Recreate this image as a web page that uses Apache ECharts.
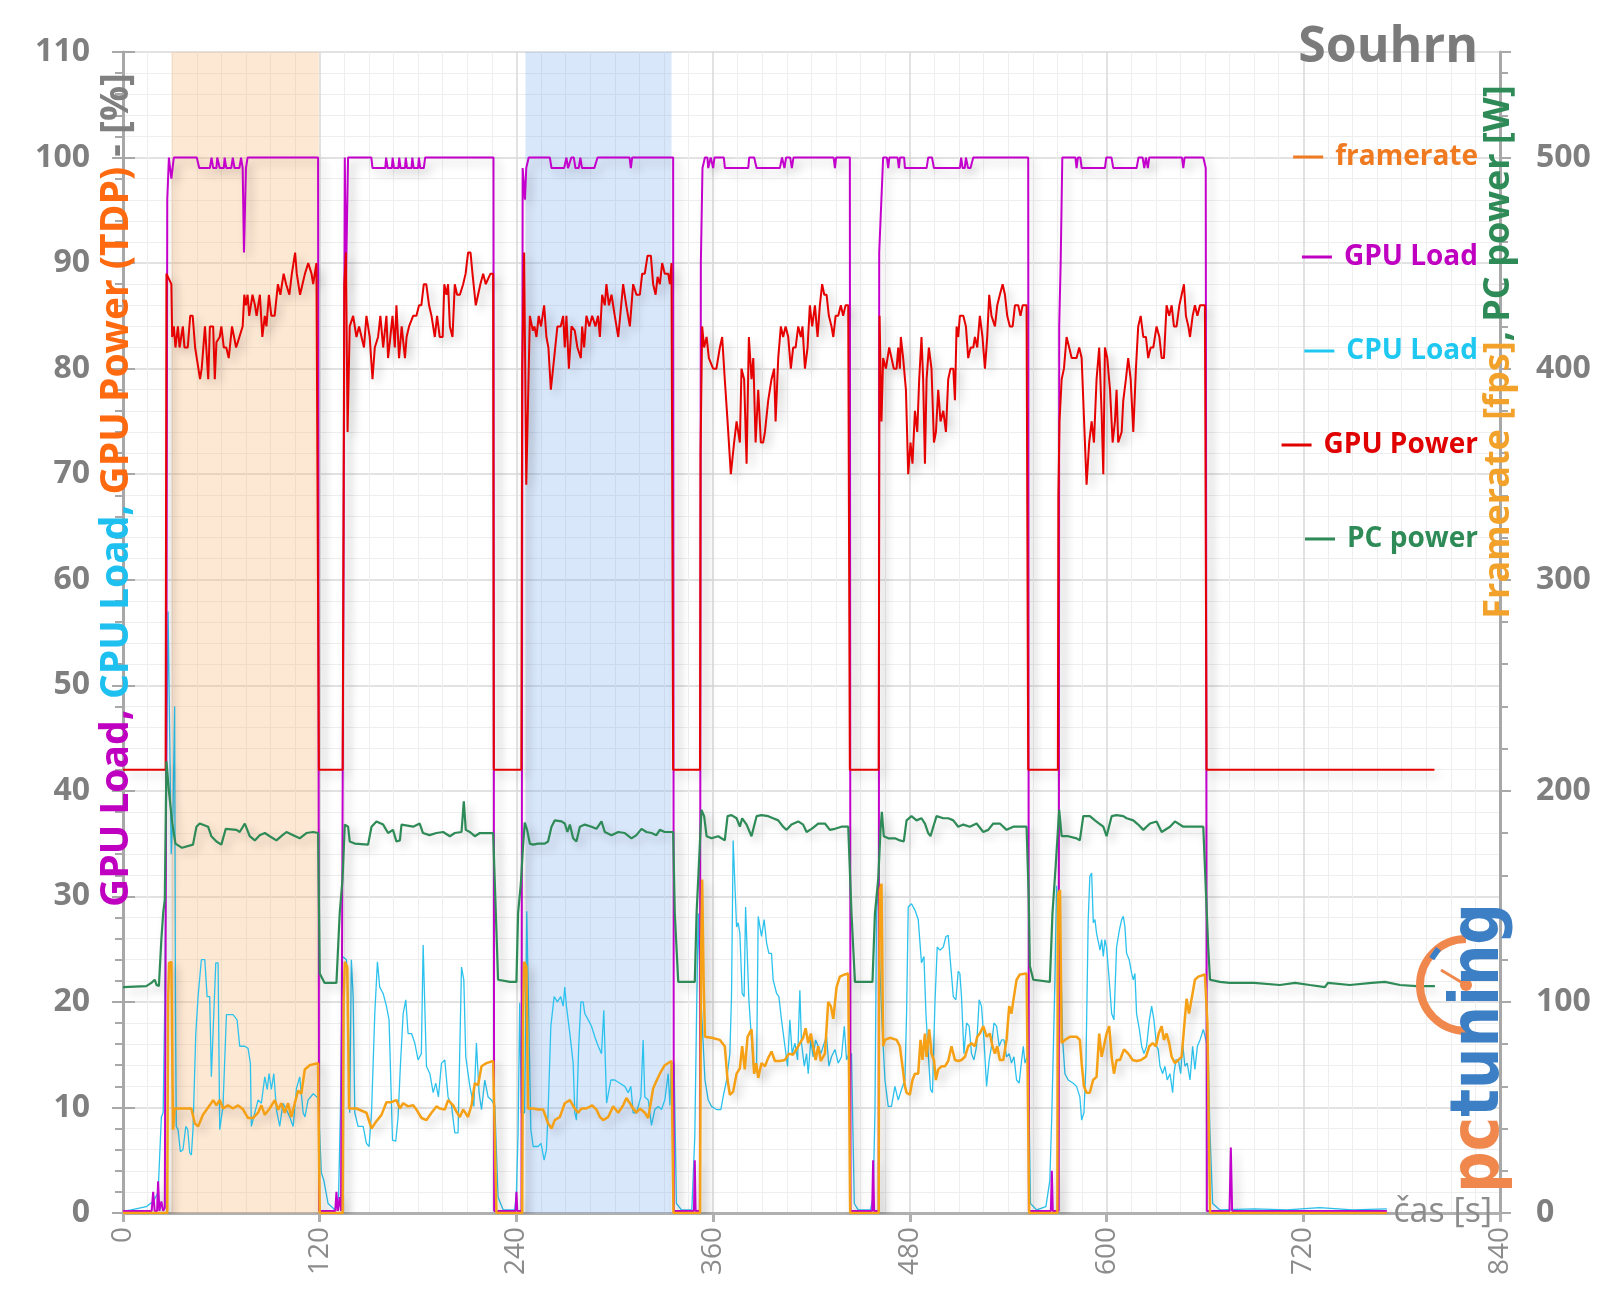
<!DOCTYPE html>
<html><head><meta charset="utf-8">
<script src="https://cdn.jsdelivr.net/npm/echarts@6/dist/echarts.min.js"></script>
<style>html,body{margin:0;padding:0;background:#fff}#c{width:1600px;height:1301px}</style>
</head><body><div id="c"></div>
<script>
// time [s], GPU Power [% TDP]
const gpuPower = [[0,42],[26,42],[26.5,89],[28,88.5],[29.5,88],[30,83],[31,84],[32,82],[33.5,84],[34.5,82],[36.5,84],[37.5,82],[39.5,82],[41,85],[42.5,85],[44,82],[45,81],[46,81],[47,79],[48,80],[50,84],[52,79],[53,84],[55,84],[56,79],[57,82.5],[59,83],[60,84],[61.5,82],[63,82],[64.5,81],[66.5,84],[69,82],[71,83],[73,84],[74,87],[75,86],[76,87],[77,85],[79,87],[80.5,86],[81.5,85],[83.5,87],[85,83],[86.5,85],[87.5,84],[89,87],[90.5,85],[92.5,85],[94.5,88],[96,87],[98,89],[99.5,88],[101.5,87],[103,89],[105,91],[106,89],[108,87],[109.5,88],[111,89],[113,90],[115,89],[116,88],[117,88],[118,90],[119,90],[119.5,42],
[134,42],[135,88],[136,91],[137,74],[138.3,84],[140.4,85],[142.4,83],[144,84],[145.5,83],[147,82],[148.5,85],[150.5,83],[152.2,79],[153.6,82],[155.6,83],[157,85],[158.7,82],[160.7,85],[161.7,81],[163.1,83],[164.4,85],[165.8,82],[166.8,86],[168.4,81],[170,84],[172,81],[173,83],[174.5,84],[177,85],[179,85],[180.6,86],[182,86],[183.5,88],[185,88],[186.7,86],[188.2,85],[190.2,83],[191.6,85],[193.2,83],[195,83],[196,88],[197.3,87],[198.3,88],[199.4,84],[201,83],[202.4,88],[203.8,87],[205.5,87],[207.5,88],[209,89],[210.5,91],[212,91],[213.2,89],[215.2,86],[216.6,87],[218,88],[219.7,89],[221.3,88],[222.7,88.5],[224.2,89],[225.8,89],[226.2,42],
[243,42],[243.5,80],[244.7,91],[246,69],[247,69],[248.2,85],[250,83.6],[251,84],[252.2,83],[253.6,85],[255,84],[256.9,86],[258.3,83],[259.5,82],[261,78],[263,81],[265,84],[267,84],[268.5,85],[269.5,82],[270.5,85],[272,80],[273.6,84],[275.6,83.6],[277.2,82],[279.3,81],[280.1,84],[281.3,82],[282.7,85],[284.5,84],[286.2,85],[288.2,84],[289.8,85],[290.9,83],[292.3,87],[293.9,86],[294.9,88],[296.4,86],[298,87],[300,85],[302.1,83],[305.1,88],[307,86],[309.2,84],[311.2,88],[313.2,87],[315.3,87],[316.7,89],[318.3,89],[320,90.7],[322,90.7],[323.4,88],[324.9,87],[326.1,88.7],[327.5,88],[328.9,90],[330.5,89],[332.6,89],[333.6,88],[334.6,90],[335.6,42],
[352,42],[352.3,72],[353.3,84],[354.5,82],[356,83],[357.4,81],[358.6,81],[360,80],[362,80],[364.1,82],[365.5,83],[367.1,79],[368.8,75],[370.8,70],[372.8,73],[374.3,75],[376.3,73],[377.3,80],[378.9,79],[380.4,71],[381.8,83],[383.4,79],[384.5,81],[385.9,73],[387.5,78],[389.1,73],[390.5,73],[391.6,74],[393.6,77],[395.6,79],[397.2,80],[398.1,75],[399.7,81],[401.3,84],[402.7,83],[404.2,84],[405.8,83],[407.4,80],[408.8,82],[410.3,82],[411.9,84],[413.5,83],[414.5,84],[416,80],[417.6,82],[419,86],[420.4,84],[422.1,86],[423.7,83],[425.1,86],[426.5,88],[427.8,87],[429.2,87],[430.6,85],[432.2,84],[433.3,83],[434.7,85],[436.3,85],[437.9,86],[439.3,85],[440.8,86],[442.4,86],[443.4,42],
[461,42],[461.5,85],[462.7,75],[463.7,81],[465.4,80],[467.4,82],[468.8,81],[470.2,80],[471.9,80],[472.9,82],[473.9,80],[474.5,83],[475.9,81],[477.6,78],[479,70],[480.4,73],[481.6,71],[483.1,76],[484.5,74],[485.7,79],[487.1,83],[488.1,79],[489.2,71],[490.2,79],[491.6,82],[493.2,80],[494.7,73],[495.9,74],[497.3,78],[498.7,75],[500.4,76],[502,74],[503.4,79],[504.8,80],[506.5,80],[507.5,77],[508.5,84],[509.5,83],[510.5,85],[512.6,85],[514.2,84],[515.6,81],[517.1,82],[518.7,82],[519.7,83],[521.1,82],[522.7,85],[524.3,83],[525.8,80],[527.2,83],[528.4,87],[529.8,85],[531.9,84],[533.3,86],[534.9,87],[536.6,88],[538,87],[539.4,85],[541,84],[542.7,84],[544.1,86],[546.1,86],[547.5,85],[548.8,86],[551.2,86],[552.2,42],
[570.3,42],[570.6,68],[571.3,75],[572.6,79],[574,80],[575.6,83],[577.2,82],[578.7,81],[581.7,81],[583.3,82],[584.8,81],[586.2,75.4],[587.8,69],[589.4,73],[590.9,75],[592.3,73],[593.9,79],[595.5,82],[597,75.7],[598,70],[599,82],[600.4,81],[602.1,78],[603.7,73],[605.1,75],[606.1,78],[607.1,73],[609.2,74],[610.2,77],[611.8,79],[613.2,81],[614.7,79],[616.3,74],[617.9,80],[619.3,84],[620.8,85],[622.4,83],[624,83],[625.4,81],[626.9,82],[628.5,82],[630.5,84],[632.2,83],[633.6,81],[635,81],[636.6,86],[638.2,85],[639.7,86],[641.1,84],[642.7,84],[644.4,86],[645.8,87],[647.2,88],[648.4,85],[649.9,84],[650.9,83],[652.5,85],[653.9,86],[655.4,85],[657,86],[660,86],[661,42],[800,42]];

// time [s], GPU Load [%]
const gpuLoad = [[0,0.2],[17.5,0.2],[18.4,2],[19.3,0.2],[20.8,0.2],[21.4,3],[22.2,0.2],[23.4,1.1],[24.5,0.2],[25.5,0.5],[26.5,50],[27,96],[28,100],[29.5,98],[31,100],[45,100],[46.5,99],[53,99],[54,100],[55,99],[57,99],[57.5,100],[58.5,100],[59,99],[61.5,99],[62,100],[63,99],[66,99],[67,100],[68,99],[71,99],[72,100],[73,99],[73.8,91],[75,99],[76,100],[119,100],[119.6,0.2],
[129.5,0.2],[130.2,2],[131,0.2],[132.2,1.5],[133,0.2],[134,0.2],[134.5,60],[135.3,100],[136,88],[137.3,100],[151.5,100],[152.2,99],[160,99],[160.5,100],[161.5,99],[164,99],[164.5,100],[165.3,99],[168,99],[168.5,100],[169.3,99],[172,99],[172.5,100],[173.3,99],[176,99],[176.5,100],[177.3,99],[180,99],[180.5,100],[181.3,99],[183.5,99],[184.3,100],[226,100],[226.4,0.2],
[239.5,0.2],[240,2],[240.5,0.2],[243.1,0.2],[243.4,50],[243.8,99],[244.5,99],[245.2,96],[246,99],[247.5,100],[260.4,100],[261.4,99],[269.1,99],[270.5,100],[271.5,99],[272.5,99],[273.5,100],[275,100],[276,99],[278,99],[279,100],[280,99],[287.5,99],[289.5,100],[309,100],[309.8,99],[310.6,100],[335.6,100],[336,0.2],
[348.3,0.2],[348.8,5],[349.3,0.2],[351.9,0.2],[352.5,90],[353.5,99],[355,100],[356.5,100],[357,99],[358,99],[358.5,100],[360,99],[360.8,100],[366.5,100],[367.2,99],[381.4,99],[382,100],[385,100],[386.5,99],[400.7,99],[402,100],[403.5,99],[404.5,100],[407,100],[408,99],[409,100],[433.5,100],[434.3,99],[435,100],[443.4,100],[443.8,0.2],
[457,0.2],[457.6,5],[458.2,0.2],[461,0.2],[461.3,91],[462,91],[463.7,100],[466,100],[466.8,99],[467.5,100],[472.5,100],[473.3,99],[474,100],[476.5,100],[477,99],[490.2,99],[491.2,100],[493.5,100],[494.7,99],[510.5,99],[511.3,100],[512.2,99],[513.5,99],[514.2,100],[515.5,99],[517,99],[518.7,100],[552.2,100],[552.6,0.2],
[566,0.2],[566.6,4],[567.2,0.2],[570.8,0.2],[571.1,84],[572,90],[573,100],[581,100],[581.7,99],[582.5,100],[584,100],[584.8,99],[599,99],[599.8,100],[603,100],[604.1,99],[618.3,99],[619.5,100],[622,100],[623,99],[624,100],[624.6,100],[625.2,99],[626,100],[646,100],[646.8,99],[647.6,100],[659,100],[660.5,99],[661.2,0.2],[675,0.2],[675.8,6.2],[676.6,0.2],[771,0.2]];

// time [s], CPU Load [%]
const cpuLoad = [[0,0.15],[5,0.3],[14.2,0.6],[18.4,1.1],[21.4,1.9],[23.4,9.1],[24.5,9.5],[25.5,20],[26.5,40],[27.5,57],[28.5,45],[29.4,34],[30.5,38],[31.5,48],[32,20],[32.5,8.2],[33.6,7.9],[35,5.8],[36.6,6],[38.3,8.2],[39.5,7.9],[40.7,5.7],[41.7,5.5],[42.7,7.9],[44.4,17],[45.8,20.5],[47.8,24],[49.9,24],[51.3,20.5],[52.9,20.5],[53.9,12.9],[54.9,12.9],[56.6,23.7],[58,23.7],[59,7.9],[60,7.9],[61,10.1],[63.1,18.8],[67.1,18.8],[69.6,18.3],[71.2,15.8],[74.3,15.8],[76.3,15.6],[77.7,14.2],[78.3,8.2],[80.4,9.5],[82.4,10.7],[84.4,10.4],[86.5,12.9],[88,11.7],[89.1,13.2],[90.5,11.7],[92,13.2],[93.6,9.8],[95.6,8.2],[97.6,10.4],[99.7,9.8],[101.7,9.1],[103.8,8.2],[105.8,11.8],[107.8,12.9],[109.9,9.5],[111,9.1],[112.9,10.7],[116,11.3],[119,10.9],[121,3.8],[122.5,3.1],[125.1,0.9],[129.2,0.3],[131.5,1.5],[132.6,9.5],[133.9,24.3],[134.7,24.3],[136.3,24],[137.3,20.5],[138.3,9.5],[139.3,24],[140.4,20.5],[141.4,9.5],[143.4,8.2],[146.5,8.2],[148.5,6.6],[150.1,6.3],[151.6,9.5],[153.6,18.9],[155.2,23.8],[156.6,21.4],[158.7,20.8],[160.7,19.6],[162.3,18.3],[164.4,6.9],[166.4,6.8],[167.8,9.1],[169.2,13.9],[170.9,18.9],[172.5,20.2],[173.9,17],[176,17],[178,16.1],[180,14.5],[182,15.1],[183.1,25.4],[184.1,25.4],[185.1,13.9],[187.2,13.2],[189.2,11.4],[190.8,12.3],[192.4,11],[194.3,14.2],[196.3,14.5],[198.3,11],[200.4,10.2],[202.4,7.6],[204.4,7.6],[206.5,23.3],[207.9,22.1],[209.1,14.8],[211.6,12],[214,10.1],[215.6,16.1],[217.2,11.4],[218.7,9.8],[220.7,12.6],[222.7,11],[224.8,10.7],[226.8,10.2],[228.8,1.5],[231.9,0.3],[239,0.3],
[240,2],[241,7.6],[242,19.9],[243,9.5],[245,9.5],[246.3,28.6],[247.5,28.6],[248.8,7.9],[250.2,6.3],[253.2,6.3],[255,6.6],[256.9,5],[258.3,6],[259.3,9.5],[261,17.7],[263,20.5],[265,20],[267,20.5],[268.5,19.6],[269.5,21.4],[270.5,19.6],[272.6,17],[274.6,14.2],[275.6,9.5],[276.6,8.8],[278,15.8],[279.3,20],[280.7,20],[281.7,18.9],[283.8,18.3],[285.8,17.7],[287.8,16.7],[289.9,15.8],[291.9,15.1],[293.3,19.2],[294.3,19.2],[295,10.4],[297.6,12.6],[300,12.6],[303.1,12.3],[306.1,12],[308.2,11.4],[309.8,12],[311.2,9.5],[313.2,9.5],[315.9,11],[317.3,16.4],[318.3,11],[320.4,10.7],[322.4,8.3],[324.4,9.8],[326.5,10.1],[328.5,9.8],[330.5,10.7],[332.6,13.2],[333.6,10.2],[334.6,14.2],[336.2,14.2],[337.6,0.9],[340.7,0.3],[347,0.3],
[348.8,7.2],[350,20],[350.9,28.4],[352,22],[353.3,18],[355,12.6],[357,10.7],[359,10.1],[362.1,9.8],[364.7,9.8],[366.1,11],[368.2,12.6],[370.2,15.1],[371.2,20.5],[372.2,35.3],[373.2,35.3],[374.3,27.1],[375.3,27.5],[376.3,26.5],[377.7,20.8],[378.9,20.5],[379.8,29],[381,29],[381.8,20.2],[383.4,16.4],[385,13.2],[386.5,13.9],[387.5,28.1],[388.5,28.1],[389.5,26.2],[391.1,27.8],[392.6,25.6],[394,24.6],[395.6,24.6],[396.6,22.1],[398.7,20.8],[400.1,20.5],[401.7,18.3],[403.8,15.8],[405.4,13.9],[406.8,18.3],[408.2,15.1],[409.9,16.1],[411.5,14.5],[412.9,21.1],[413.9,16.1],[415.6,13.9],[417,15.1],[418,13.2],[419.6,16.4],[421,14.8],[422.5,16.4],[424.1,15.8],[425.7,15.1],[427.8,16.1],[429.2,16.7],[430.6,13.9],[432.2,14.8],[434.3,15.5],[436.3,14.2],[438.3,14.8],[440,17.7],[441.4,14.5],[442.8,15.1],[444.4,15.1],[446.1,0.9],[448.5,0.3],[456,0.3],
[457.6,1.5],[458.7,9.5],[459.7,28.4],[460.7,31],[461.7,23.3],[463,18],[464.8,12.6],[466.8,10.1],[468.8,10.1],[470.9,12],[472.9,10.7],[474.9,11.7],[477,12.6],[478,18.9],[479,29],[481,29.3],[483.1,28.7],[485.1,27.8],[486.1,27.8],[487.1,23.7],[488.6,24.3],[489.8,18.9],[491.2,15.1],[492.6,11.7],[493.8,11.4],[495.3,19.9],[496.7,25.2],[498.3,24.9],[500.4,25.2],[502,26.2],[503.4,26.3],[504.8,23.7],[506.5,20.5],[508.1,20.2],[509.5,22.9],[510.5,22.7],[511.5,20.5],[513,15.1],[514.6,18],[516.2,17.7],[517.6,15.1],[519.1,14.5],[520.7,15.8],[522.3,20.2],[523.7,19.6],[525.2,16.4],[526.8,12],[528.4,14.5],[529.8,15.8],[531.3,18],[532.9,17.7],[534.5,15.8],[536,16.4],[537.4,16.4],[539,14.8],[540.6,15.1],[542,14.2],[543.5,14.8],[545.1,12.6],[546.7,12.3],[548.2,14.5],[549.2,15.8],[550.2,14.2],[552.2,15.1],[553.6,0.9],[557.3,0.3],[563,0.6],[565.4,3.1],[566.5,8.8],
[568.5,22.1],[569.5,31],[571.1,27.8],[572.2,23.3],[573.2,16.4],[574.6,13.2],[576.6,12.6],[579.7,12.3],[581.7,12],[583.7,11],[584.8,8.8],[586.2,9.5],[587.4,13.9],[588.8,27.8],[589.8,31.9],[590.9,32.2],[591.9,27.5],[592.9,27.8],[593.9,26.5],[594.9,26.5],[596,24.9],[597,25.9],[598,24.3],[599,25.9],[600,25.2],[601.6,22.1],[603.1,18.9],[604.5,18.3],[606.1,25.2],[607.8,26.8],[609.2,27.8],[610.2,28.1],[611.2,27.1],[612.2,24.6],[613.8,24],[615.3,22.7],[616.3,22.1],[617.3,22.7],[618.3,18.9],[620,17.4],[621.4,15.8],[622.8,15.1],[624.4,15.8],[626.1,18.3],[627.5,19.6],[628.9,18.3],[630.5,15.8],[631.5,15.5],[632.6,13.9],[634.2,13.2],[635.6,13.9],[637,12.6],[638.7,13.2],[640.3,11.4],[641.1,13.2],[642.3,14.5],[643.8,14.5],[645.2,13.2],[646.4,16.1],[647.8,13.9],[649.2,14.2],[650.9,12.6],[652.5,15.8],[653.9,13.6],[655.4,15.8],[657,16.4],[659,17.4],[660.6,16.4],[662,15.1],[663,8],[664.7,0.9],[669,0.3],[690,0.4],[710,0.3],[730,0.5],[750,0.3],[771,0.4]];

// time [s], PC power [W]
const pcPower = [[0,107],[14.2,107.5],[17.3,109],[19.4,110.5],[20.5,108],[21.9,107.5],[23.4,129.5],[24.5,142],[25.5,148.5],[26.5,214],[28,200],[30,185],[32,175],[36,173],[42.7,174.5],[44.8,183],[46.8,184.5],[51.9,183],[53.9,178.5],[57,176],[60,174.5],[62.7,182],[69.2,181.5],[71.2,180.5],[74.3,184.5],[77.3,178.5],[80.4,176.5],[83.4,179],[86.5,180],[89.5,178.5],[93.6,176.5],[96.6,178.5],[99.7,180.5],[103.8,179],[107.8,177.5],[111.9,180],[116,180.5],[119,180],[120,113.5],[123,109],[130.2,109],[132.2,142],[133.9,158],[135.3,184],[137.3,183],[138.3,176],[141.4,175],[149.5,174.5],[151.6,183],[154.6,185.5],[158.7,184],[161.7,180],[164.7,181.5],[166.8,176],[168.9,176.5],[169.9,184],[177,183],[181,184.5],[183,180],[187,179],[191.2,180],[195.3,180.5],[199.4,178.5],[202.4,180],[206.5,180.5],[207.9,195],[209.1,181.5],[211.6,180.5],[214.6,178.5],[217.7,180],[221.7,180],[225.8,180],[228.8,110.5],[236,109.5],[240,109.5],
[241,142],[242.7,156],[244,173.5],[245.1,185],[246.5,181.5],[248.2,175],[250.2,174.5],[253.2,175],[257.3,175],[259.3,176],[261.4,183],[263.4,186],[267.5,185.5],[269.5,184.5],[271.1,180.5],[272.6,184],[274.6,177.5],[276.6,176],[278.7,183],[281.7,184],[285.8,183],[288.8,182],[291.9,185.5],[293.9,180.5],[298,179],[302.1,180.5],[306.1,180],[310.2,177.5],[313.2,179],[316.3,182],[319.3,180.5],[322.4,180],[325.4,179],[327.5,181.5],[330.5,180.5],[335.6,180.5],[336.6,142],[338.7,109.5],[348.8,109.5],
[349.9,142],[351,160],[352.9,191],[354.5,188],[356,178.5],[359,177.5],[363.1,178.5],[367.1,176.5],[368.8,188],[371.2,188.5],[374.3,187],[376.3,183],[377.7,187],[380.4,184],[383.4,178.5],[386.5,188],[389.5,188.5],[393.6,188],[396.6,187],[399.7,186],[402.7,183],[404.8,181.5],[407.8,184],[411.9,185.5],[414.9,184],[417,180.5],[420.1,182],[424.1,184.5],[428.2,184.5],[431.2,181.5],[434.3,182],[438.3,183],[442.4,183],[444.4,142],[446.5,109.5],[457.2,109.5],
[458.7,142],[460.7,158],[462.1,181.5],[462.9,190],[464.1,178.5],[466.8,177.5],[470.9,177.5],[473.9,176.5],[476.3,176],[478,186],[481,188],[484.1,186],[487.1,187],[489.2,184.5],[491.2,180],[492.6,178.5],[494.3,183],[496.3,188],[500.4,187],[503.4,187],[506.5,186],[509.5,183],[512.6,184],[516.6,183],[520.7,184.5],[524.8,180.5],[527.8,181.5],[530.9,184.5],[534.9,184.5],[539,181.5],[543.1,183],[547.1,183],[551.2,183],[552.5,150],[553.2,117],[555.3,110.5],[565.4,109.5],
[567,142],[569,165],[571.1,191],[572.6,178.5],[576.6,178.5],[581.7,177.5],[583.7,176.5],[585.8,188],[589.8,188],[592.9,186],[595.5,184.5],[598,183],[600,178.5],[603.1,188],[606.1,188.5],[610.2,188],[612.2,187],[616.3,186],[619.3,184],[622.4,181.5],[626.5,184.5],[630.5,185.5],[633.6,180.5],[638.7,183],[641.7,185.5],[646.8,183],[650.9,183],[655,183],[659,183],[662,126],[663.1,110.5],[669.1,109.5],[675,109],[681.3,109],[690,109],[705.7,108],[715,109],[724,108],[733.2,107],[735,109],[748.4,108],[761.7,109],[769.8,109.5],[779,108],[789.1,107.5],[800.3,107.5]];

// time [s], framerate [fps]
const framerate = [[0,0],[27,0],[27.5,100],[28.1,118.5],[29.5,119],[30.5,39.5],[31.5,49.5],[41.7,49.5],[43.8,42.5],[45.8,41],[48.8,46.5],[52.9,51],[55,53.5],[57,51],[59,53.5],[61,49.5],[64.1,51],[67,49.5],[70.2,51],[73.3,49],[76.3,45],[79.3,45],[82.4,47.5],[84.4,51],[86.5,46.5],[89.5,49.5],[92.6,53.5],[94.6,49],[96.6,52],[98.7,47.5],[100.7,52],[102.7,45.5],[104.8,52],[106.8,58],[108.8,56.5],[110.9,68],[113.9,70],[119,71],[120,0],
[134,0],[134.6,100],[135.3,119],[136.8,116.5],[137.9,49.5],[142.4,49.5],[148.5,47.5],[151.6,40],[154.6,43.5],[157.7,46.5],[160.7,52.5],[163.7,52.5],[166.8,53.5],[168.9,49.5],[170.9,52],[173.9,50.5],[177,51],[179,49],[182.1,45],[185.1,44],[188.2,47.5],[191.2,50.5],[193.2,49.5],[196.3,49],[198.3,53.5],[201.4,51],[203.4,48],[205.5,45.5],[207.5,49],[210.5,45.5],[212.6,51],[214.6,61.5],[216.6,60.5],[218.7,69.5],[221.7,71],[225.8,72],[227.8,0],
[243.5,0],[244,90],[244.7,119],[246.1,116.5],[247.1,49.5],[250.2,49.5],[253.2,49],[256.3,49],[259.3,42.5],[261.4,40],[263.4,44],[266.5,45.5],[269.5,52],[272.6,53.5],[275.6,49.5],[277.6,47.5],[279.7,49.5],[282.7,49.5],[286.2,51],[288.8,49],[290.9,45.5],[292.9,44],[296,45.5],[299,50.5],[302.1,47.5],[305.1,51],[307.1,54.5],[309.2,52],[311.2,49.5],[313.2,47.5],[315.3,49.5],[318.3,47.5],[320.4,45],[323.4,59],[325.4,62.5],[327.5,66],[330.5,70],[334.6,72],[335.8,0],
[352,0],[352.6,120],[353.3,158],[354.2,110],[355,83.5],[359,83],[364.1,82],[367.1,79],[368.8,63],[370.2,56],[372.2,57.5],[374.3,66],[376.3,68.5],[377.7,79],[379.3,68],[381,83.5],[383.4,87],[385,66],[386.3,71],[387.5,64],[389.5,71],[391.6,69.5],[393.6,73.5],[395.6,76.5],[397.7,72],[400.7,72],[403.8,72.5],[406.2,75.5],[408.8,75],[411.9,79],[414.9,83],[416.4,87.5],[418,80.5],[419.6,85],[421,79],[422.5,72.5],[424.1,79],[425.7,72],[428.2,75.5],[430.2,100],[431.8,98],[433.3,92],[435.3,107],[437.3,112],[440.4,113],[442.4,113.5],[443.6,0],
[461,0],[461.2,100],[461.7,153],[462.7,156],[463.7,79],[464.8,82],[467.8,83],[471.9,82],[473.9,79],[475.5,69.5],[477,60],[478,57],[480,56],[481.6,63],[483.1,66],[485.1,66],[486.5,82],[487.7,72.5],[489.2,85],[490.2,74],[491.8,87],[493.2,75.5],[494.7,72.5],[495.9,63],[497.3,68],[499.3,69.5],[501.4,69.5],[503.4,72],[505.4,79],[507.5,72.5],[509.5,72],[511.5,72.5],[513.6,74],[515.6,79],[517.6,80.5],[519.7,79],[521.1,83.5],[522.7,85],[524.8,88.5],[526.8,83.5],[528.8,85],[530.4,79],[531.9,75.5],[533.3,79],[534.9,72.5],[537,72.5],[539,82],[540.6,98],[542,94.5],[543.5,102.5],[545.1,110.5],[547.1,113],[551.2,113.5],[552.8,0],
[570,0],[570.2,120],[570.5,151.5],[571.6,153],[572.6,80.5],[574.6,82],[577.6,83.5],[581.7,83.5],[583.7,82],[584.8,71],[586.2,60],[587.8,57],[589.8,57],[591.8,63],[593.9,64.5],[595.5,85],[597,74],[598.4,79],[600,85],[601.6,88.5],[603.1,74],[604.5,66],[606.1,72.5],[608.2,72.5],[610.6,77.5],[613.2,75.5],[615.9,72.5],[618.3,72],[621,72.5],[624,74],[626.1,79],[628.1,80.5],[630.1,79],[631.8,85],[633.6,88.5],[635,82],[636.6,85],[638.2,80.5],[639.7,74],[641.7,71],[643.8,72.5],[645.8,74],[647.2,87],[648.8,101.5],[650.3,94.5],[651.9,101.5],[653.9,110.5],[656,112],[660,113],[661.5,90],[663.1,0],[771,0]];

// highlighted time ranges [s]
const orangeRange = [29.5, 119.5];
const blueRange = [245.5, 334.6];

const seriesNames = ['framerate', 'GPU Load', 'CPU Load', 'GPU Power', 'PC power'];
const FONT = '"Open Sans", "Noto Sans", sans-serif';
const C = {
  gpuLoad: '#c400cc', cpuLoad: '#2cc2ee', gpuPower: '#e60000', pcPower: '#2e8b57', fps: '#f5a015',
  legendFps: '#f07a20', gray: '#808080'
};
const legendTops = [161, 261, 355, 449, 543];
const legendColors = [C.legendFps, '#c000c0', '#1ec8f0', '#e00000', '#2e8b57'];

const shadow = { shadowColor: 'rgba(0,0,0,0.22)', shadowBlur: 10, shadowOffsetX: 5, shadowOffsetY: 5 };

const chart = echarts.init(document.getElementById('c'), null, { renderer: 'canvas' });

const tickStyle = { color: '#a8a8a8', width: 2 };

const option = {
  animation: false,
  backgroundColor: '#ffffff',
  title: {
    text: 'Souhrn', right: 122, top: 23, padding: 0,
    textStyle: { fontFamily: FONT, fontSize: 50, fontWeight: 'bold', color: '#7b7b7b' }
  },
  legend: seriesNames.map((n, i) => ({
    data: [i === 0 ? { name: n, itemStyle: { color: C.legendFps } } : n],
    right: 122, top: legendTops[i] - 18, padding: 0,
    orient: 'vertical', icon: 'rect', itemWidth: 30, itemHeight: 3,
    selectedMode: false,
    textStyle: { fontFamily: FONT, fontSize: 28, fontWeight: 'bold', color: legendColors[i], padding: [0, 0, 0, 7] }
  })),
  grid: { left: 123, right: 100, top: 52, bottom: 88, containLabel: false, outerBoundsMode: 'none' },
  xAxis: {
    type: 'value', min: 0, max: 840, interval: 120,
    axisLine: { show: true, onZero: false, lineStyle: { color: '#b0b0b0', width: 3 } },
    axisTick: { show: true, length: 9, lineStyle: { color: '#b0b0b0', width: 3 } },
    axisLabel: { rotate: 90, margin: 14, fontFamily: FONT, fontSize: 28, color: '#8c8c8c' },
    splitLine: { show: true, lineStyle: { color: '#d9d9d9', width: 1.5 } },
    minorTick: { show: false, splitNumber: 8 },
    minorSplitLine: { show: true, lineStyle: { color: '#eeeeee', width: 1 } }
  },
  yAxis: [{
    type: 'value', min: 0, max: 110, interval: 10, position: 'left',
    axisLine: { show: true, lineStyle: { color: '#a8a8a8', width: 3 } },
    axisTick: { show: true, length: 11, lineStyle: tickStyle },
    minorTick: { show: true, splitNumber: 5, length: 8, lineStyle: tickStyle },
    axisLabel: { margin: 33, fontFamily: FONT, fontSize: 32, fontWeight: 'bold', color: '#7f7f7f' },
    splitLine: { show: true, lineStyle: { color: '#d9d9d9', width: 1.5 } },
    minorSplitLine: { show: true, lineStyle: { color: '#eeeeee', width: 1 } }
  }, {
    type: 'value', min: 0, max: 550, interval: 100, position: 'right',
    axisLine: { show: true, lineStyle: { color: '#a8a8a8', width: 3 } },
    axisTick: { show: true, length: 11, lineStyle: tickStyle },
    minorTick: { show: true, splitNumber: 5, length: 8, lineStyle: tickStyle },
    axisLabel: { margin: 36, fontFamily: FONT, fontSize: 32, fontWeight: 'bold', color: '#7f7f7f',
      formatter: v => (v > 500 ? '' : String(v)) },
    splitLine: { show: false }
  }, {
    // inner half of the left major ticks (they cross the axis line in the original)
    type: 'value', min: 0, max: 110, interval: 10, position: 'left',
    axisLine: { show: false },
    axisTick: { show: true, inside: true, length: 12, lineStyle: tickStyle },
    axisLabel: { show: false }, splitLine: { show: false }
  }],
  graphic: [
    {
      type: 'text', x: 117, y: 490, rotation: Math.PI / 2, z: 100,
      style: {
        text: '{m|GPU Load,} {c|CPU Load,} {o|GPU Power (TDP)} {g|- [%]}',
        align: 'center', verticalAlign: 'middle',
        fontFamily: FONT, fontSize: 39, fontWeight: 'bold', fill: '#808080',
        rich: {
          m: { fontFamily: FONT, fontSize: 39, fontWeight: 'bold', fill: '#c000c0' },
          c: { fontFamily: FONT, fontSize: 39, fontWeight: 'bold', fill: '#1ec0f0' },
          o: { fontFamily: FONT, fontSize: 39, fontWeight: 'bold', fill: '#ff6a10' },
          g: { fontFamily: FONT, fontSize: 39, fontWeight: 'bold', fill: '#808080' }
        }
      }
    },
    {
      type: 'text', x: 1499, y: 352, rotation: Math.PI / 2, z: 100,
      style: {
        text: '{o|Framerate [fps]}{g|, PC power [W]}', align: 'center', verticalAlign: 'middle',
        rich: {
          o: { fontFamily: FONT, fontSize: 36, fontWeight: 'bold', fill: '#f2a22a' },
          g: { fontFamily: FONT, fontSize: 36, fontWeight: 'bold', fill: '#2e8b57' }
        }
      }
    },
    {
      type: 'text', x: 1492, y: 1212, z: 100,
      style: { text: 'čas [s]', align: 'right', verticalAlign: 'middle',
        font: '34px ' + FONT, fill: '#8c8c8c' }
    },
    // pctuning watermark
    {
      type: 'arc', z: 90,
      shape: { cx: 1466, cy: 985, r: 46, startAngle: -Math.PI / 2, endAngle: Math.PI / 2, clockwise: false },
      style: { stroke: '#f0884e', lineWidth: 8, fill: null }
    },
    {
      type: 'line', z: 91, shape: { x1: 1466, y1: 985, x2: 1441, y2: 970 },
      style: { stroke: '#f0884e', lineWidth: 3 }
    },
    { type: 'circle', z: 91, shape: { cx: 1466, cy: 985, r: 6 }, style: { fill: '#f0884e' } },
    {
      type: 'rect', z: 92, x: 1436, y: 947, rotation: -0.6,
      shape: { x: 0, y: 0, width: 6, height: 12 }, style: { fill: '#3d7fc4' }
    },
    {
      type: 'text', x: 1480, y: 1048, rotation: Math.PI / 2, scaleX: 1.12, scaleY: 1.3, z: 95,
      style: {
        text: '{a|pc}{b|tuning}', align: 'center', verticalAlign: 'middle',
        rich: {
          a: { fontFamily: '"DejaVu Sans", sans-serif', fontSize: 52, fontWeight: 'bold', fill: '#f0884e' },
          b: { fontFamily: '"DejaVu Sans", sans-serif', fontSize: 52, fontWeight: 'bold', fill: '#3d7fc4' }
        }
      }
    }
  ],
  series: [
    {
      name: 'CPU Load', type: 'line', yAxisIndex: 0, data: cpuLoad, showSymbol: false, symbol: 'none', z: 2,
      lineStyle: { color: C.cpuLoad, width: 1.3 }, itemStyle: { color: '#1ec8f0' },
      markArea: {
        silent: true,
        data: [
          [{ xAxis: orangeRange[0], itemStyle: { color: 'rgba(248,180,110,0.3)' } }, { xAxis: orangeRange[1] }],
          [{ xAxis: blueRange[0], itemStyle: { color: 'rgba(120,170,240,0.28)' } }, { xAxis: blueRange[1] }]
        ]
      }
    },
    {
      name: 'GPU Load', type: 'line', yAxisIndex: 0, data: gpuLoad, showSymbol: false, symbol: 'none', z: 3,
      lineStyle: Object.assign({ color: C.gpuLoad, width: 2 }, shadow), itemStyle: { color: '#c000c0' }
    },
    {
      name: 'GPU Power', type: 'line', yAxisIndex: 0, data: gpuPower, showSymbol: false, symbol: 'none', z: 4,
      lineStyle: Object.assign({ color: C.gpuPower, width: 2 }, shadow), itemStyle: { color: '#e00000' }
    },
    {
      name: 'PC power', type: 'line', yAxisIndex: 1, data: pcPower, showSymbol: false, symbol: 'none', z: 5,
      lineStyle: Object.assign({ color: C.pcPower, width: 2.2 }, shadow), itemStyle: { color: '#2e8b57' }
    },
    {
      name: 'framerate', type: 'line', yAxisIndex: 1, data: framerate, showSymbol: false, symbol: 'none', z: 6,
      lineStyle: Object.assign({ color: C.fps, width: 2.5 }, shadow), itemStyle: { color: C.legendFps }
    }
  ]
};
chart.setOption(option);
</script></body></html>
